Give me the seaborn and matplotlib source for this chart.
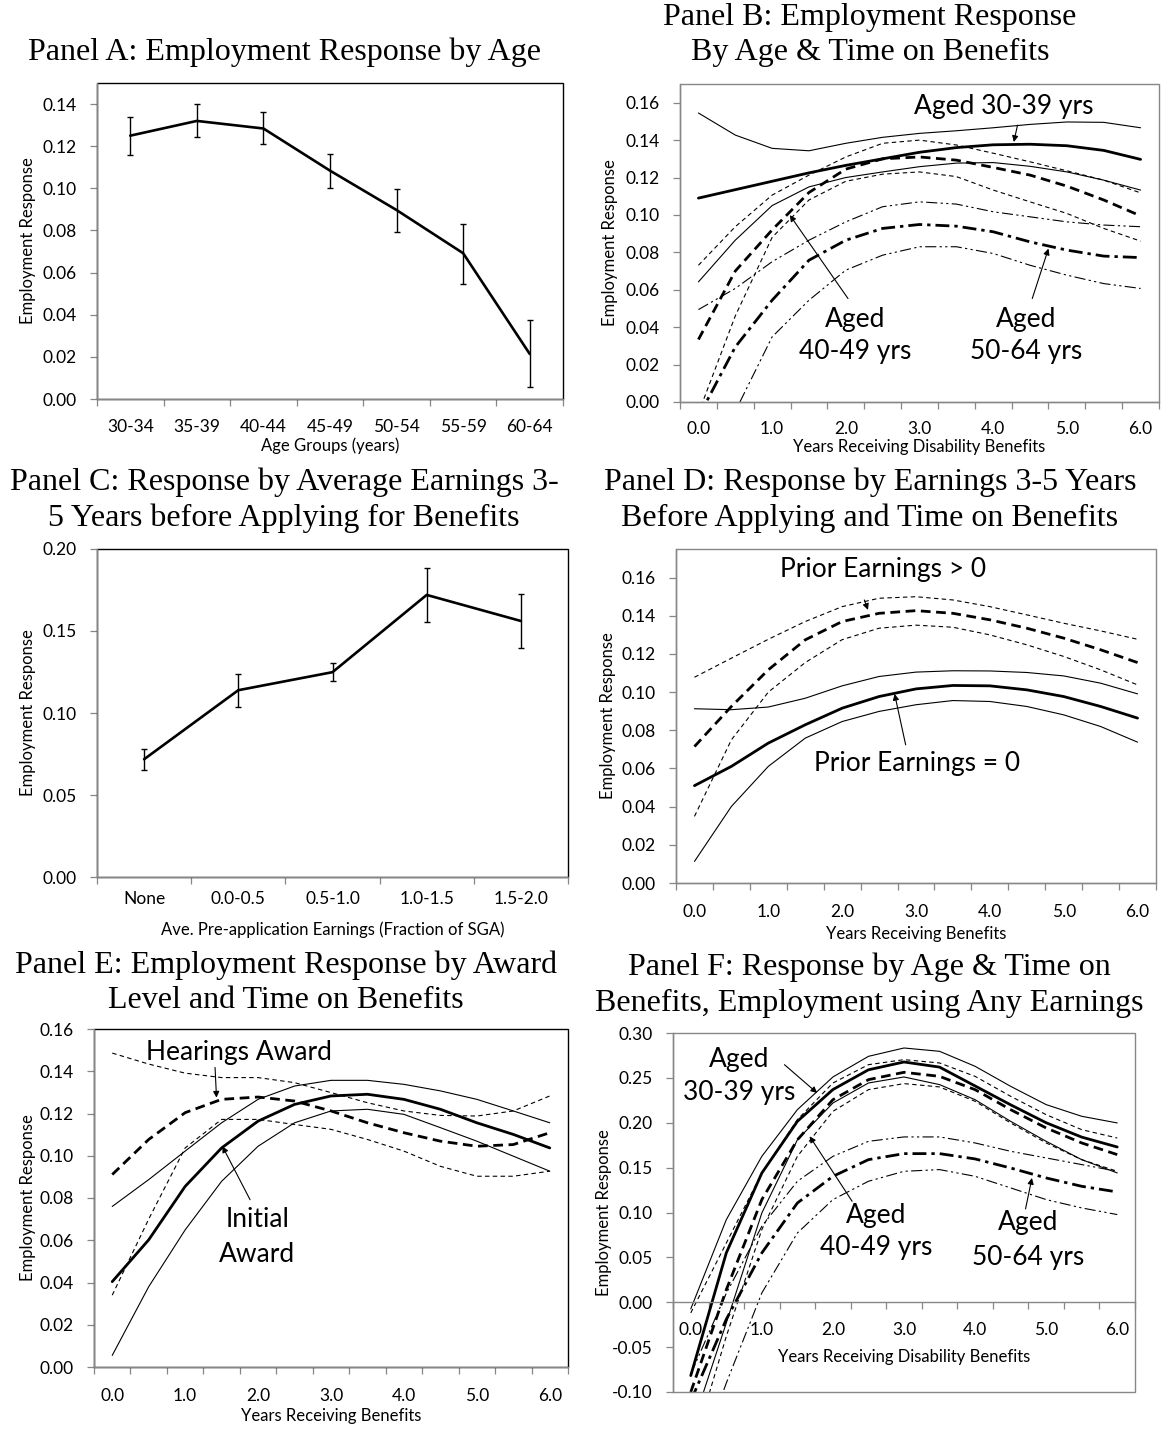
import numpy as np
import pandas as pd
import matplotlib
matplotlib.use("Agg")
import matplotlib.pyplot as plt
import seaborn as sns
from matplotlib.ticker import FixedLocator, FormatStrFormatter
from matplotlib.patches import Rectangle

# ---------------- data ----------------
age_groups = ["30-34", "35-39", "40-44", "45-49", "50-54", "55-59", "60-64"]
a_resp = [0.125, 0.132, 0.1284, 0.1084, 0.0897, 0.0692, 0.0214]
a_lo = [0.1157, 0.1244, 0.121, 0.1003, 0.0793, 0.0544, 0.0056]
a_hi = [0.134, 0.140, 0.136, 0.1163, 0.0998, 0.0833, 0.0376]

earn_groups = ["None", "0.0-0.5", "0.5-1.0", "1.0-1.5", "1.5-2.0"]
c_resp = [0.0718, 0.1139, 0.1249, 0.172, 0.1561]
c_lo = [0.0652, 0.1035, 0.1194, 0.1553, 0.1394]
c_hi = [0.0779, 0.124, 0.1302, 0.1887, 0.1724]

years = [0.0, 0.5, 1.0, 1.5, 2.0, 2.5, 3.0, 3.5, 4.0, 4.5, 5.0, 5.5, 6.0]
year_labels = ["0.0", "1.0", "2.0", "3.0", "4.0", "5.0", "6.0"]

# Panel B
b_3039 = [0.109, 0.1135, 0.118, 0.1225, 0.1265, 0.130, 0.1335, 0.136, 0.1375, 0.1378, 0.137, 0.1345, 0.1297]
b_3039_hi = [0.1545, 0.1427, 0.1356, 0.1343, 0.1383, 0.1415, 0.1436, 0.145, 0.1466, 0.1484, 0.1497, 0.1495, 0.1466]
b_3039_lo = [0.0642, 0.0865, 0.105, 0.115, 0.120, 0.123, 0.1258, 0.1277, 0.128, 0.126, 0.123, 0.1186, 0.1133]
b_4049 = [0.0334, 0.070, 0.092, 0.112, 0.1245, 0.130, 0.131, 0.1293, 0.1254, 0.1213, 0.1154, 0.108, 0.0995]
b_4049_hi = [0.0731, 0.0937, 0.1106, 0.1213, 0.131, 0.1383, 0.140, 0.1374, 0.133, 0.1284, 0.1236, 0.1186, 0.1118]
b_4049_lo = [-0.006, 0.046, 0.088, 0.108, 0.118, 0.1218, 0.123, 0.1205, 0.1133, 0.107, 0.1008, 0.0928, 0.086]
b_5064 = [-0.008, 0.0294, 0.0544, 0.0758, 0.0865, 0.0928, 0.0949, 0.094, 0.091, 0.0856, 0.0812, 0.078, 0.0772]
b_5064_hi = [0.0494, 0.0607, 0.075, 0.0865, 0.0963, 0.1044, 0.107, 0.1058, 0.1017, 0.099, 0.0963, 0.0946, 0.0937]
b_5064_lo = [-0.05, -0.005, 0.0348, 0.0544, 0.0705, 0.0785, 0.083, 0.083, 0.0794, 0.0731, 0.0678, 0.0633, 0.0607]

# Panel D
d_zero = [0.051, 0.0611, 0.0733, 0.0829, 0.0916, 0.0977, 0.1017, 0.1035, 0.1033, 0.1012, 0.0977, 0.0925, 0.0864]
d_zero_hi = [0.0913, 0.0908, 0.0922, 0.0968, 0.1033, 0.1082, 0.1105, 0.1112, 0.1111, 0.1103, 0.1085, 0.1047, 0.0991]
d_zero_lo = [0.0113, 0.0401, 0.0611, 0.0759, 0.0846, 0.0899, 0.0934, 0.0956, 0.0951, 0.0925, 0.0881, 0.082, 0.0738]
d_pos = [0.0715, 0.0925, 0.1117, 0.1274, 0.137, 0.1413, 0.1427, 0.1413, 0.1379, 0.1335, 0.1283, 0.1222, 0.1155]
d_pos_hi = [0.1078, 0.1178, 0.1277, 0.137, 0.1448, 0.1492, 0.150, 0.1483, 0.1448, 0.1405, 0.1361, 0.1321, 0.1277]
d_pos_lo = [0.0349, 0.075, 0.100, 0.1155, 0.1275, 0.1335, 0.1351, 0.134, 0.130, 0.1248, 0.1187, 0.1117, 0.1038]

# Panel E
e_init = [0.0404, 0.0602, 0.0855, 0.1037, 0.1164, 0.1243, 0.1283, 0.1291, 0.1267, 0.122, 0.1156, 0.1101, 0.1037]
e_init_hi = [0.076, 0.0887, 0.1022, 0.1156, 0.1267, 0.133, 0.1357, 0.1357, 0.1338, 0.1307, 0.1267, 0.1212, 0.1156]
e_init_lo = [0.0055, 0.038, 0.0649, 0.0879, 0.1045, 0.1156, 0.1212, 0.122, 0.1196, 0.1133, 0.1069, 0.0998, 0.0927]
e_hear = [0.0911, 0.1077, 0.1204, 0.1267, 0.1278, 0.1259, 0.1212, 0.1156, 0.1109, 0.1069, 0.1045, 0.1053, 0.1109]
e_hear_hi = [0.1486, 0.1434, 0.1391, 0.137, 0.137, 0.1346, 0.1299, 0.1251, 0.1212, 0.1191, 0.1188, 0.1212, 0.1283]
e_hear_lo = [0.034, 0.070, 0.1037, 0.1172, 0.1172, 0.1148, 0.1125, 0.1077, 0.1022, 0.095, 0.0903, 0.0903, 0.0927]

# Panel F
f_3039 = [-0.0817, 0.055, 0.144, 0.2016, 0.237, 0.259, 0.2677, 0.262, 0.241, 0.220, 0.200, 0.184, 0.173]
f_3039_hi = [-0.0074, 0.092, 0.1626, 0.2146, 0.251, 0.274, 0.2833, 0.2796, 0.2629, 0.2406, 0.2202, 0.2072, 0.1998]
f_3039_lo = [-0.143, -0.023, 0.0995, 0.181, 0.222, 0.2443, 0.251, 0.2425, 0.2257, 0.2016, 0.1793, 0.1589, 0.1441]
f_4049 = [-0.100, 0.014, 0.1144, 0.181, 0.2257, 0.248, 0.2562, 0.2517, 0.2369, 0.2146, 0.1942, 0.1775, 0.1645]
f_4049_hi = [-0.0119, 0.066, 0.144, 0.2035, 0.2443, 0.2647, 0.2703, 0.2666, 0.2517, 0.2295, 0.209, 0.1923, 0.183]
f_4049_lo = [-0.170, -0.038, 0.081, 0.1626, 0.2127, 0.2369, 0.2436, 0.2399, 0.2239, 0.1998, 0.1775, 0.1589, 0.1459]
f_5064 = [-0.110, -0.019, 0.055, 0.1106, 0.1403, 0.1589, 0.1656, 0.1656, 0.1597, 0.1496, 0.1385, 0.1292, 0.1229]
f_5064_hi = [-0.080, 0.010, 0.0847, 0.1348, 0.1626, 0.1793, 0.1842, 0.1842, 0.1775, 0.1682, 0.1608, 0.1534, 0.1459]
f_5064_lo = [-0.200, -0.090, 0.0104, 0.0772, 0.1144, 0.1348, 0.1459, 0.1478, 0.1403, 0.1274, 0.1144, 0.1051, 0.0977]

# ---------------- style ----------------
sns.set_theme(style="white")
plt.rcParams["font.family"] = ["Lato", "DejaVu Sans"]

W, H = 1168, 1437
fig = plt.figure(figsize=(W / 100, H / 100), dpi=100)
fig.patch.set_facecolor("white")

GRAY = "#878787"
TICK_FS = 12.5
LAB_FS = 12
ANN_FS = 19
TITLE_FS = 23
SERIF = ["Liberation Serif", "DejaVu Serif"]

STY = {
    "solid_thick": dict(linewidth=2.0, linestyle="-"),
    "solid_thin": dict(linewidth=0.8, linestyle="-"),
    "dash_thick": dict(linewidth=2.0, linestyle=(0, (3.5, 2.0))),
    "dash_thin": dict(linewidth=0.8, linestyle=(0, (4, 3))),
    "dashdot_thick": dict(linewidth=2.0, linestyle=(0, (5, 1.8, 1.2, 1.8))),
    "dd_thin": dict(linewidth=0.8, linestyle=(0, (10, 3, 2, 3, 2, 3))),
}


def make_ax(l, r, t, b):
    ax = fig.add_axes([l / W, 1 - b / H, (r - l) / W, (b - t) / H])
    ax.set_facecolor("white")
    return ax


def frame(ax, border_color):
    for s in ["top", "right"]:
        ax.spines[s].set_visible(False)
    for s in ["left", "bottom"]:
        ax.spines[s].set_color(GRAY)
        ax.spines[s].set_linewidth(1.0)
        ax.spines[s].set_zorder(5)
    ax.add_patch(Rectangle((0, 0), 1, 1, transform=ax.transAxes, fill=False,
                           edgecolor=border_color, linewidth=1.0, clip_on=False, zorder=4))


def labels(ax, box, xlabel, xl_y, ylabel, yl_x):
    l, r, t, b = box
    ax.set_xlabel(xlabel, fontsize=LAB_FS, color="black")
    ax.set_ylabel(ylabel, fontsize=LAB_FS, color="black")
    ax.xaxis.set_label_coords(0.5, (b - xl_y) / (b - t))
    ax.xaxis.label.set_verticalalignment("center")
    ax.yaxis.set_label_coords((yl_x - l) / (r - l), 0.5)
    ax.yaxis.label.set_verticalalignment("center")


def yaxis_setup(ax, ylim, yticks):
    ax.set_ylim(*ylim)
    ax.set_yticks(yticks)
    ax.yaxis.set_major_formatter(FormatStrFormatter("%.2f"))
    ax.tick_params(axis="y", which="major", left=True, length=5, width=0.9,
                   color=GRAY, pad=9.5, labelsize=TICK_FS, labelcolor="black")


def time_axis(ax, pad):
    ax.set_xlim(-0.25, 6.25)
    ax.set_xticks([0, 1, 2, 3, 4, 5, 6])
    ax.set_xticklabels(year_labels)
    ax.xaxis.set_minor_locator(FixedLocator(np.arange(-0.25, 6.26, 0.5)))
    ax.tick_params(axis="x", which="major", bottom=True, length=0, pad=pad,
                   labelsize=TICK_FS, labelcolor="black")
    ax.tick_params(axis="x", which="minor", bottom=True, length=5, width=0.9,
                   color=GRAY, direction="out")


def curve(ax, y, style):
    sns.lineplot(x=years, y=y, ax=ax, color="black", estimator=None, sort=False,
                 **STY[style])


def title(x, y, s):
    fig.text(x / W, 1 - y / H, s, ha="center", va="center", family=SERIF,
             fontsize=TITLE_FS, color="black")


def arrow(ax, start, end):
    ax.annotate("", xy=end, xytext=start,
                arrowprops=dict(arrowstyle="-|>", lw=0.8, color="black",
                                mutation_scale=9, shrinkA=0, shrinkB=0))


def note(ax, x, y, s):
    ax.text(x, y, s, ha="center", va="center", fontsize=ANN_FS, color="black")


# ---------------- Panel A ----------------
boxA = (97, 563, 83, 399)
axA = make_ax(*boxA)
sns.lineplot(x=list(range(len(age_groups))), y=a_resp, ax=axA, color="black",
             linewidth=1.9, estimator=None, sort=False)
axA.errorbar(range(len(age_groups)), a_resp,
             yerr=[np.subtract(a_resp, a_lo), np.subtract(a_hi, a_resp)],
             fmt="none", ecolor="black", elinewidth=1.0, capsize=2.5, capthick=1.0)
axA.set_xlim(-0.5, len(age_groups) - 0.5)
axA.set_xticks(range(len(age_groups)))
axA.set_xticklabels(age_groups)
axA.xaxis.set_minor_locator(FixedLocator(np.arange(-0.5, len(age_groups), 1.0)))
axA.tick_params(axis="x", which="major", bottom=True, length=0, pad=14.5,
                labelsize=TICK_FS, labelcolor="black")
axA.tick_params(axis="x", which="minor", bottom=True, length=5, width=0.9, color=GRAY)
yaxis_setup(axA, (0, 0.15), np.arange(0, 0.141, 0.02))
frame(axA, "black")
labels(axA, boxA, "Age Groups (years)", 446, "Employment Response", 28)
title(284, 52, "Panel A: Employment Response by Age")

# ---------------- Panel B ----------------
boxB = (680, 1159, 84, 402)
axB = make_ax(*boxB)
curve(axB, b_3039_hi, "solid_thin")
curve(axB, b_3039_lo, "solid_thin")
curve(axB, b_3039, "solid_thick")
curve(axB, b_4049_hi, "dash_thin")
curve(axB, b_4049_lo, "dash_thin")
curve(axB, b_4049, "dash_thick")
curve(axB, b_5064_hi, "dd_thin")
curve(axB, b_5064_lo, "dd_thin")
curve(axB, b_5064, "dashdot_thick")
time_axis(axB, 14)
yaxis_setup(axB, (0, 0.17), np.arange(0, 0.161, 0.02))
frame(axB, GRAY)
labels(axB, boxB, "Years Receiving Disability Benefits", 447, "Employment Response", 610)
note(axB, 4.15, 0.158, "Aged 30-39 yrs")
arrow(axB, (4.33, 0.148), (4.28, 0.139))
note(axB, 2.13, 0.044, "Aged")
note(axB, 2.13, 0.0268, "40-49 yrs")
arrow(axB, (2.03, 0.0553), (1.24, 0.0999))
note(axB, 4.45, 0.044, "Aged")
note(axB, 4.45, 0.0268, "50-64 yrs")
arrow(axB, (4.53, 0.0553), (4.75, 0.082))
title(870, 18, "Panel B: Employment Response")
title(870, 52, "By Age & Time on Benefits")

# ---------------- Panel C ----------------
boxC = (97, 568, 549, 877)
axC = make_ax(*boxC)
sns.lineplot(x=list(range(len(earn_groups))), y=c_resp, ax=axC, color="black",
             linewidth=1.9, estimator=None, sort=False)
axC.errorbar(range(len(earn_groups)), c_resp,
             yerr=[np.subtract(c_resp, c_lo), np.subtract(c_hi, c_resp)],
             fmt="none", ecolor="black", elinewidth=1.0, capsize=2.5, capthick=1.0)
axC.set_xlim(-0.5, len(earn_groups) - 0.5)
axC.set_xticks(range(len(earn_groups)))
axC.set_xticklabels(earn_groups)
axC.xaxis.set_minor_locator(FixedLocator(np.arange(-0.5, len(earn_groups), 1.0)))
axC.tick_params(axis="x", which="major", bottom=True, length=0, pad=10,
                labelsize=TICK_FS, labelcolor="black")
axC.tick_params(axis="x", which="minor", bottom=True, length=5, width=0.9, color=GRAY)
yaxis_setup(axC, (0, 0.20), np.arange(0, 0.201, 0.05))
frame(axC, "black")
labels(axC, boxC, "Ave. Pre-application Earnings (Fraction of SGA)", 930,
       "Employment Response", 28)
title(284, 482, "Panel C: Response by Average Earnings 3-")
title(284, 518, "5 Years before Applying for Benefits")

# ---------------- Panel D ----------------
boxD = (676, 1156, 549, 883)
axD = make_ax(*boxD)
curve(axD, d_zero_hi, "solid_thin")
curve(axD, d_zero_lo, "solid_thin")
curve(axD, d_zero, "solid_thick")
curve(axD, d_pos_hi, "dash_thin")
curve(axD, d_pos_lo, "dash_thin")
curve(axD, d_pos, "dash_thick")
time_axis(axD, 15)
yaxis_setup(axD, (0, 0.175), np.arange(0, 0.161, 0.02))
frame(axD, GRAY)
labels(axD, boxD, "Years Receiving Benefits", 934, "Employment Response", 608)
note(axD, 2.56, 0.164, "Prior Earnings > 0")
arrow(axD, (2.30, 0.1483), (2.35, 0.1431))
note(axD, 3.01, 0.0628, "Prior Earnings = 0")
arrow(axD, (2.86, 0.0724), (2.71, 0.0991))
title(870, 482, "Panel D: Response by Earnings 3-5 Years")
title(870, 518, "Before Applying and Time on Benefits")

# ---------------- Panel E ----------------
boxE = (94, 568, 1029, 1367)
axE = make_ax(*boxE)
curve(axE, e_init_hi, "solid_thin")
curve(axE, e_init_lo, "solid_thin")
curve(axE, e_init, "solid_thick")
curve(axE, e_hear_hi, "dash_thin")
curve(axE, e_hear_lo, "dash_thin")
curve(axE, e_hear, "dash_thick")
time_axis(axE, 15)
yaxis_setup(axE, (0, 0.16), np.arange(0, 0.161, 0.02))
frame(axE, "black")
labels(axE, boxE, "Years Receiving Benefits", 1416, "Employment Response", 28)
note(axE, 1.74, 0.1489, "Hearings Award")
arrow(axE, (1.41, 0.1418), (1.43, 0.1275))
note(axE, 1.99, 0.0697, "Initial")
note(axE, 1.99, 0.0531, "Award")
arrow(axE, (1.89, 0.0792), (1.51, 0.1045))
title(286, 965, "Panel E: Employment Response by Award")
title(286, 1001, "Level and Time on Benefits")

# ---------------- Panel F ----------------
boxF = (673, 1135, 1033, 1392)
axF = make_ax(*boxF)
curve(axF, f_3039_hi, "solid_thin")
curve(axF, f_3039_lo, "solid_thin")
curve(axF, f_3039, "solid_thick")
curve(axF, f_4049_hi, "dash_thin")
curve(axF, f_4049_lo, "dash_thin")
curve(axF, f_4049, "dash_thick")
curve(axF, f_5064_hi, "dd_thin")
curve(axF, f_5064_lo, "dd_thin")
curve(axF, f_5064, "dashdot_thick")
time_axis(axF, 14)
yaxis_setup(axF, (-0.10, 0.30), np.arange(-0.10, 0.301, 0.05))
frame(axF, GRAY)
axF.spines["bottom"].set_position(("data", 0))
labels(axF, boxF, "Years Receiving Disability Benefits", 1357, "Employment Response", 604)
note(axF, 0.684, 0.2703, "Aged")
note(axF, 0.684, 0.2339, "30-39 yrs")
arrow(axF, (1.318, 0.2647), (1.778, 0.2332))
note(axF, 2.61, 0.0965, "Aged")
note(axF, 2.61, 0.0605, "40-49 yrs")
arrow(axF, (2.27, 0.1125), (1.672, 0.1849))
note(axF, 4.75, 0.0891, "Aged")
note(axF, 4.75, 0.0494, "50-64 yrs")
arrow(axF, (4.71, 0.104), (4.80, 0.1385))
title(869, 967, "Panel F: Response by Age & Time on")
title(869, 1003, "Benefits, Employment using Any Earnings")

fig.savefig("out.png", dpi=100, facecolor="white")
